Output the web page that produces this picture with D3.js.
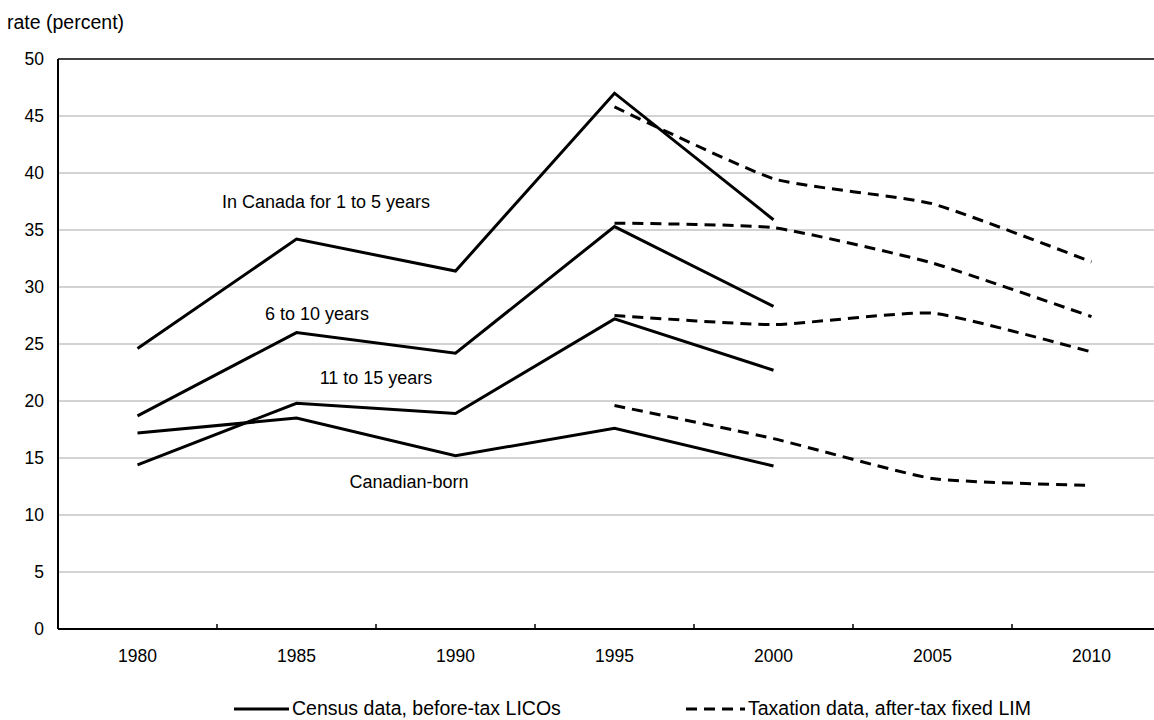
<!DOCTYPE html>
<html><head><meta charset="utf-8">
<script src="https://cdn.jsdelivr.net/npm/d3@7"></script>
<style>
body{margin:0;background:#fff;}
svg{display:block;font-family:"Liberation Sans",Arial,sans-serif;}
</style></head>
<body><svg id="chart" width="1154" height="720"></svg>
<script>
const years = ["1980","1985","1990","1995","2000","2005","2010"];
const yTicks = [0,5,10,15,20,25,30,35,40,45,50];
// Census data, before-tax LICOs (1980-2000)
const censusRecent   = [24.6, 34.2, 31.4, 47.0, 35.9];
const census6to10    = [18.7, 26.0, 24.2, 35.3, 28.3];
const census11to15   = [14.4, 19.8, 18.9, 27.2, 22.7];
const censusCdnBorn  = [17.2, 18.5, 15.2, 17.6, 14.3];
// Taxation data, after-tax fixed LIM (1995-2010)
const taxRecent      = [45.8, 39.5, 37.3, 32.2];
const tax6to10       = [35.6, 35.2, 32.1, 27.4];
const tax11to15      = [27.5, 26.7, 27.7, 24.3];
const taxCdnBorn     = [19.6, 16.7, 13.2, 12.6];
const censusYears = years.slice(0,5);
const taxYears = years.slice(3);
const seriesLabels = ["In Canada for 1 to 5 years","6 to 10 years","11 to 15 years","Canadian-born"];
const legendLabels = ["Census data, before-tax LICOs","Taxation data, after-tax fixed LIM"];

(function(){
const svg = d3.select("#chart");
const pL = 58, pR = 1171, pT = 59, pB = 629;
const x = d3.scaleBand().domain(years).range([pL,pR]).padding(0);
const y = d3.scaleLinear().domain([0,50]).range([pB,pT]);

svg.append("g").selectAll("line").data(yTicks.filter(d=>d>0 && d<50)).join("line")
  .attr("x1",pL).attr("x2",pR).attr("y1",d=>y(d)).attr("y2",d=>y(d))
  .attr("stroke","#c4c4c4").attr("stroke-width",1.5);

svg.append("g").selectAll("text").data(yTicks).join("text")
  .attr("x",44).attr("y",d=>y(d)).attr("dy","0.36em").attr("text-anchor","end")
  .attr("font-size",17.5).attr("fill","#000").text(d=>d);

svg.append("text").attr("x",7).attr("y",29).attr("font-size",19.5).text("rate (percent)");

svg.append("line").attr("x1",pL).attr("x2",pR).attr("y1",pT).attr("y2",pT).attr("stroke","#000").attr("stroke-width",1.5);
svg.append("line").attr("x1",pL).attr("x2",pL).attr("y1",pT).attr("y2",pB).attr("stroke","#000").attr("stroke-width",2);

const xAxis = svg.append("g").attr("transform",`translate(0,${pB})`);
xAxis.append("line").attr("x1",pL).attr("x2",pR).attr("stroke","#000").attr("stroke-width",2);
xAxis.selectAll(".tk").data(years.slice(1)).join("line").attr("class","tk")
  .attr("x1",d=>x(d)).attr("x2",d=>x(d)).attr("y1",0).attr("y2",-5).attr("stroke","#000").attr("stroke-width",1.5);
xAxis.selectAll("text").data(years).join("text")
  .attr("x",d=>x(d)+x.bandwidth()/2).attr("y",33).attr("text-anchor","middle")
  .attr("font-size",17.5).text(d=>d);

const cx = d=>x(d)+x.bandwidth()/2;
const solid = d3.line().x(d=>cx(d[0])).y(d=>y(d[1]));
const dashed = d3.line().x(d=>cx(d[0])).y(d=>y(d[1])).curve(d3.curveCardinal.tension(0.5));

[censusRecent,census6to10,census11to15,censusCdnBorn].forEach(s=>{
  svg.append("path").attr("d",solid(censusYears.map((yr,i)=>[yr,s[i]])))
    .attr("fill","none").attr("stroke","#000").attr("stroke-width",3).attr("stroke-linejoin","miter");
});
[taxRecent,tax6to10,tax11to15,taxCdnBorn].forEach(s=>{
  svg.append("path").attr("d",dashed(taxYears.map((yr,i)=>[yr,s[i]])))
    .attr("fill","none").attr("stroke","#000").attr("stroke-width",3).attr("stroke-dasharray","11,7");
});

const labelPos = [[326,208],[317,320],[376,384],[409,488]];
seriesLabels.forEach((t,i)=>{
  svg.append("text").attr("x",labelPos[i][0]).attr("y",labelPos[i][1]).attr("text-anchor","middle")
    .attr("font-size",18).text(t);
});

const lg = svg.append("g");
lg.append("line").attr("x1",234).attr("x2",289).attr("y1",709).attr("y2",709).attr("stroke","#000").attr("stroke-width",3);
lg.append("text").attr("x",292).attr("y",715).attr("font-size",19.5).text(legendLabels[0]);
lg.append("line").attr("x1",686).attr("x2",745).attr("y1",709).attr("y2",709).attr("stroke","#000").attr("stroke-width",3).attr("stroke-dasharray","11,7");
lg.append("text").attr("x",748).attr("y",715).attr("font-size",19.5).text(legendLabels[1]);
})();
</script></body></html>
